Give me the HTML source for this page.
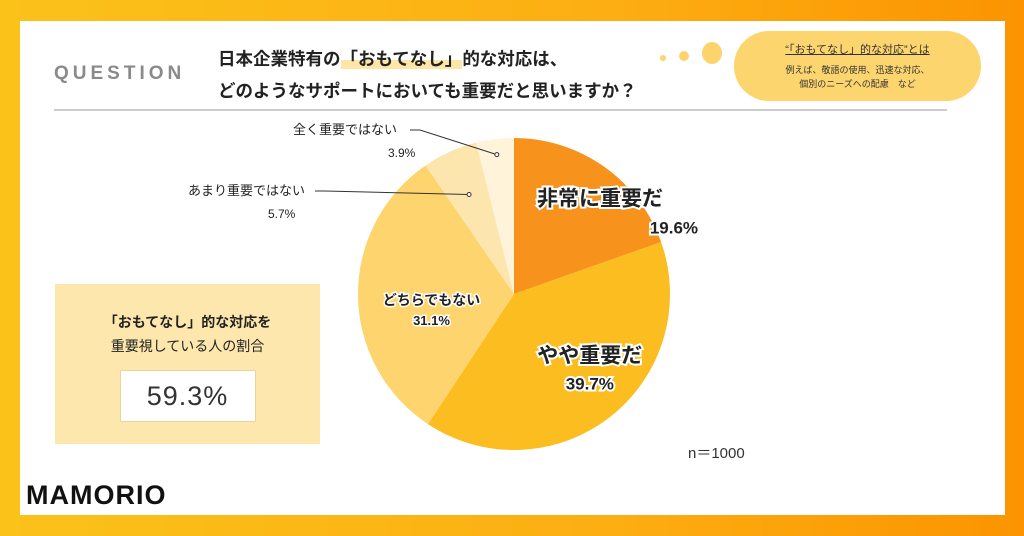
<!DOCTYPE html>
<html><head><meta charset="utf-8">
<style>
body{margin:0;width:1024px;height:536px;overflow:hidden;background:linear-gradient(90deg,#fbc21a 0%,#fcae12 60%,#fb9400 100%);font-family:"Liberation Sans","Noto Sans CJK JP",sans-serif;}
#panel{position:absolute;left:20px;top:21px;width:985px;height:494px;background:#fff;}
.abs{position:absolute;}
</style></head><body>
<div id="panel"></div>
<div class="abs" style="left:54px;top:63px;font-size:19px;letter-spacing:4px;color:#8a8a8a;font-weight:bold;">QUESTION</div>
<div class="abs" style="left:218px;top:46px;font-size:17.5px;font-weight:bold;color:#222;">日本企業特有の<span style="background:linear-gradient(transparent 55%,#fde6a8 55%)">「おもてなし」</span>的な対応は、</div>
<div class="abs" style="left:218px;top:78px;font-size:17.5px;font-weight:bold;color:#222;">どのようなサポートにおいても重要だと思いますか？</div>
<div class="abs" style="left:660px;top:55px;width:6px;height:6px;border-radius:50%;background:#fdd36b"></div>
<div class="abs" style="left:679px;top:51px;width:10px;height:10px;border-radius:50%;background:#fdd36b"></div>
<div class="abs" style="left:702px;top:42px;width:20px;height:22px;border-radius:50%;background:#fdd36b"></div>
<div class="abs" style="left:734px;top:31px;width:247px;height:70px;border-radius:35px;background:#fdd56e;text-align:center;">
<div style="margin-top:10px;font-size:11px;color:#333;text-decoration:underline;">“「おもてなし」的な対応”とは</div>
<div style="margin-top:6px;font-size:9px;color:#333;line-height:14px;">例えば、敬語の使用、迅速な対応、<br>個別のニーズへの配慮　など</div></div>
<div class="abs" style="left:54px;top:109px;width:893px;height:2px;background:#ccc"></div>
<div class="abs" style="left:55px;top:284px;width:265px;height:160px;background:#fde7ac;text-align:center;">
<div style="margin-top:28px;font-size:14px;font-weight:bold;color:#222;">「おもてなし」的な対応を</div>
<div style="margin-top:4px;font-size:14px;color:#222;">重要視している人の割合</div>
<div style="margin:14px auto 0;width:134px;height:50px;background:#fff;border:1px solid #e8d59a;font-size:27px;line-height:50px;color:#333;letter-spacing:1px;">59.3%</div></div>
<div class="abs" style="left:26px;top:480px;font-size:27px;font-weight:bold;color:#111;letter-spacing:1px;">MAMORIO</div>
<div class="abs" style="left:688px;top:442px;font-size:15px;color:#333;">n＝1000</div>
<svg class="abs" style="left:0;top:0" width="1024" height="536" id="chart"></svg>
<script>
const categories=["非常に重要だ","やや重要だ","どちらでもない","あまり重要ではない","全く重要ではない"];
const values=[19.6,39.7,31.1,5.7,3.9];
const colors=["#f7931c","#fbbd20","#fdd46d","#fde6ad","#fff3d9"];
const svg=document.getElementById('chart');const NS="http://www.w3.org/2000/svg";
const cx=514,cy=294,r=156;
const total=values.reduce((a,b)=>a+b,0);
function pt(a,rr){return [cx+rr*Math.sin(a),cy-rr*Math.cos(a)];}
let acc=0;const mids=[];
values.forEach((v,i)=>{const a0=acc/total*2*Math.PI;acc+=v;const a1=acc/total*2*Math.PI;
const p0=pt(a0,r),p1=pt(a1,r);const p=document.createElementNS(NS,'path');
p.setAttribute('d',`M${cx},${cy}L${p0[0]},${p0[1]}A${r},${r} 0 ${a1-a0>Math.PI?1:0} 1 ${p1[0]},${p1[1]}Z`);
p.setAttribute('fill',colors[i]);


svg.appendChild(p);mids.push((a0+a1)/2);});
function txt(x,y,s,size,w,anchor,name){const t=document.createElementNS(NS,'text');t.setAttribute('x',x);t.setAttribute('y',y);t.setAttribute('font-size',size);t.setAttribute('font-weight',w);t.setAttribute('text-anchor',anchor);t.setAttribute('fill','#222');t.setAttribute('stroke','#fff');t.setAttribute('stroke-width',size>16?4:3);t.setAttribute('paint-order','stroke');t.textContent=s;


svg.appendChild(t);}
const fmt=v=>v.toFixed(1)+'%';
let m=pt(mids[0],r*0.6);txt(m[0]+32,m[1]-12,categories[0],21,'bold','middle','label-0');txt(m[0]+130,m[1]+16,fmt(values[0]),17,'bold','end','value-0');
m=pt(mids[1],r*0.55);txt(m[0]+23,m[1]+1,categories[1],21,'bold','middle','label-1');txt(m[0]+23,m[1]+28,fmt(values[1]),17,'bold','middle','value-1');
m=pt(mids[2],r*0.58);txt(m[0]+8,m[1]+10,categories[2],14,'bold','middle','label-2');txt(m[0]+8,m[1]+30,fmt(values[2]),13,'bold','middle','value-2');
[[3,188,195,325,0.7],[4,293,134,420,0.9]].forEach(([i,lx,ly,lend,f])=>{const e=pt(mids[i],r*f);
const l=document.createElementNS(NS,'polyline');l.setAttribute('points',`${lend-10},${ly-4} ${lend},${ly-4} ${e[0]},${e[1]}`);l.setAttribute('fill','none');l.setAttribute('stroke','#333');l.setAttribute('stroke-width','1');


svg.appendChild(l);
const c=document.createElementNS(NS,'circle');c.setAttribute('cx',e[0]);c.setAttribute('cy',e[1]);c.setAttribute('r',2);c.setAttribute('fill','#fff');c.setAttribute('stroke','#333');


svg.appendChild(c);
txt(lx,ly,categories[i],13,'normal','start','label-'+i);txt(lx+(i==3?80:95),ly+23,fmt(values[i]),12,'normal','start','value-'+i);});
</script>
</body></html>
